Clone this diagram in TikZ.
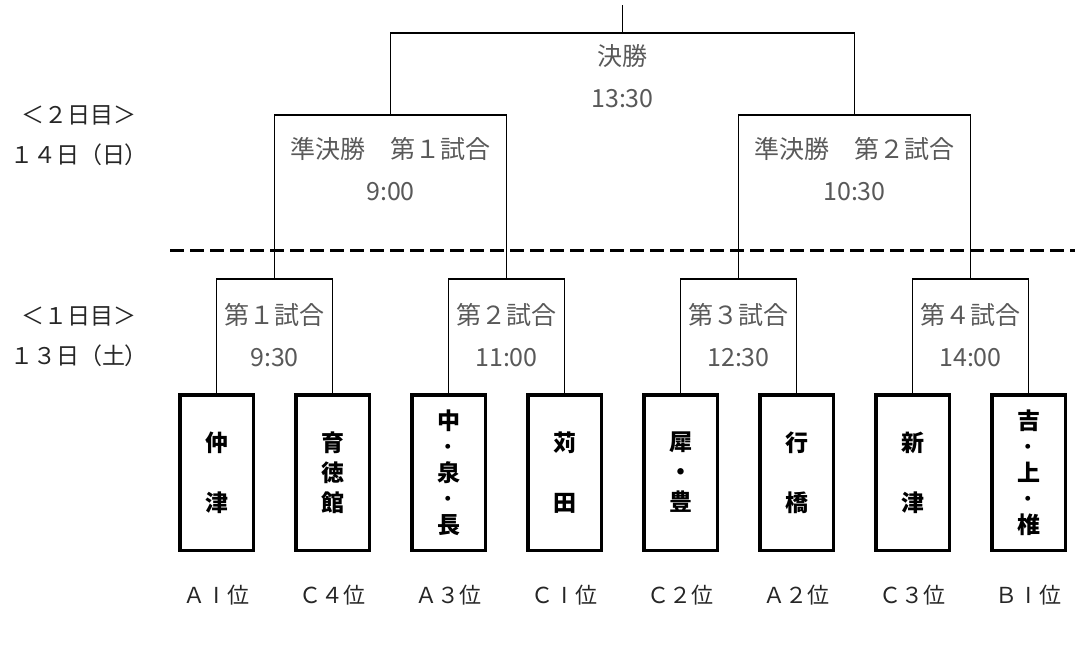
\documentclass[tikz,border=0pt]{standalone}
\usepackage{fontspec}
\setmainfont{Noto Sans CJK JP}
\usepackage{tikz}
\usetikzlibrary{positioning}
\definecolor{labelgray}{HTML}{595959}
\newcommand{\barone}{\makebox[1em]{I}}
\tikzset{
    teambox/.style  = {draw, line width=3.5pt, align=center,
        minimum width=73.5pt, minimum height=155.5pt, inner sep=0pt,
        font=\bfseries\fontsize{23}{30}\selectfont},
    tightbox/.style = {teambox, font=\bfseries\fontsize{23}{26}\selectfont},
    matchlbl/.style = {align=center, text=labelgray,
        font=\fontsize{25}{42}\selectfont},
    daylbl/.style   = {align=center, text=black!85,
        font=\fontsize{23}{40}\selectfont},
    ranklbl/.style  = {text=black!85, font=\fontsize{22}{24}\selectfont},
    bracket/.style  = {draw, line width=1.5pt}
}

\begin{document}
\begin{tikzpicture}
            [
            x = 1pt,
            y = -1pt
            ]
            \useasboundingbox (0,0) rectangle (1080,648);
            % teams
            \node[teambox]  (team1) at (216.5,472.5) {仲\\[30pt]津};
            \node[teambox]  (team2) at (332.5,472.5) {育\\徳\\館};
            \node[tightbox] (team3) at (448.5,472.5) {中\\･\\泉\\･\\長};
            \node[teambox]  (team4) at (564.5,472.5) {苅\\[30pt]田};
            \node[teambox]  (team5) at (680.5,472.5) {犀\\・\\豊};
            \node[teambox]  (team6) at (796.5,472.5) {行\\[30pt]橋};
            \node[teambox]  (team7) at (912.5,472.5) {新\\[30pt]津};
            \node[tightbox] (team8) at (1028.5,472.5) {吉\\･\\上\\･\\椎};
            \node[ranklbl, below=30pt of team1] (rank1) {Ａ\barone 位};
            \node[ranklbl, below=30pt of team2] (rank2) {Ｃ４位};
            \node[ranklbl, below=30pt of team3] (rank3) {Ａ３位};
            \node[ranklbl, below=30pt of team4] (rank4) {Ｃ\barone 位};
            \node[ranklbl, below=30pt of team5] (rank5) {Ｃ２位};
            \node[ranklbl, below=30pt of team6] (rank6) {Ａ２位};
            \node[ranklbl, below=30pt of team7] (rank7) {Ｃ３位};
            \node[ranklbl, below=30pt of team8] (rank8) {Ｂ\barone 位};
            % bracket points
            \coordinate (m1) at (274.5,279);
            \coordinate (m2) at (506.5,279);
            \coordinate (m3) at (738.5,279);
            \coordinate (m4) at (970.5,279);
            \coordinate (semi1) at (390.5,115);
            \coordinate (semi2) at (854.5,115);
            \coordinate (final) at (622.5,33);
            \coordinate (top) at (622.5,5);
            \draw[bracket] (team1.north) |- (m1) -| (team2.north);
            \draw[bracket] (team3.north) |- (m2) -| (team4.north);
            \draw[bracket] (team5.north) |- (m3) -| (team6.north);
            \draw[bracket] (team7.north) |- (m4) -| (team8.north);
            \draw[bracket] (m1) |- (semi1) -| (m2);
            \draw[bracket] (m3) |- (semi2) -| (m4);
            \draw[bracket] (semi1) |- (final) -| (semi2);
            \draw[bracket] (final) -- (top);
            % match labels
            \node[matchlbl] (lbl1) at ([yshift=-56pt]m1) {第１試合\\9:30};
            \node[matchlbl] (lbl2) at ([yshift=-56pt]m2) {第２試合\\11:00};
            \node[matchlbl] (lbl3) at ([yshift=-56pt]m3) {第３試合\\12:30};
            \node[matchlbl] (lbl4) at ([yshift=-56pt]m4) {第４試合\\14:00};
            \node[matchlbl] (lbls1) at ([yshift=-54pt]semi1) {準決勝　第１試合\\9:00};
            \node[matchlbl] (lbls2) at ([yshift=-54pt]semi2) {準決勝　第２試合\\10:30};
            \node[matchlbl] (lblf) at ([yshift=-43pt]final) {決勝\\13:30};
            % days
            \draw[line width=3pt, dash pattern=on 14pt off 6pt] (170,250) -- (1075,250);
            \node[daylbl] (day2) at (79,136) {＜２日目＞\\１４日（日）};
            \node[daylbl] (day1) at (79,337) {＜１日目＞\\１３日（土）};
    \end{tikzpicture}
\end{document}
